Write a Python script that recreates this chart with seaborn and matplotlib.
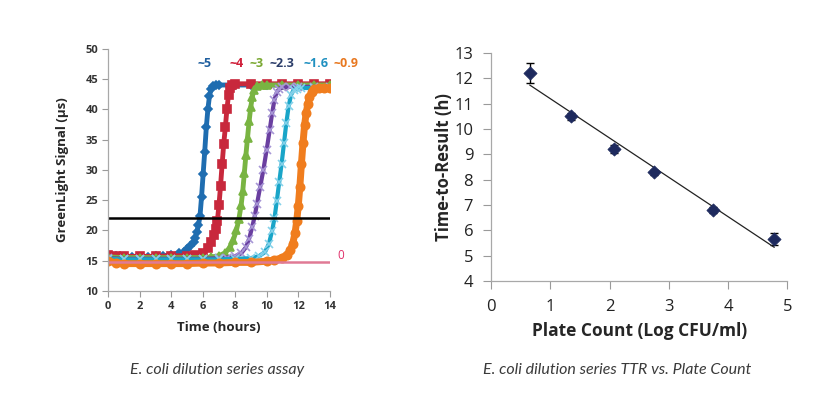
import numpy as np
import pandas as pd
import matplotlib
matplotlib.use("Agg")
import matplotlib.pyplot as plt
import seaborn as sns

# -------------------------
# Data
# -------------------------
# left: GreenLight signal curves for each dilution
t_5 = [0, 0.5, 1, 1.5, 2, 2.5, 3, 3.5, 4, 4.5, 4.8, 5.0, 5.2, 5.4, 5.5, 5.6, 5.7, 5.8, 5.9, 6.0, 6.1, 6.2, 6.3, 6.4, 6.5, 6.6, 6.8, 7.0, 8, 9, 10, 11, 12, 13, 14]
s_5 = [16.0, 15.7, 15.6, 15.6, 15.6, 15.6, 15.7, 15.8, 15.9, 16.2, 16.5, 16.9, 17.4, 18.1, 18.8, 19.7, 20.8, 22.3, 25.5, 29.3, 33.0, 37.0, 40.0, 42.2, 43.3, 43.8, 44.0, 44.0, 44.0, 44.0, 44.0, 44.0, 44.0, 44.0, 44.0]

t_4 = [0, 0.5, 1, 2, 3, 4, 5, 5.5, 6.0, 6.3, 6.5, 6.7, 6.8, 6.9, 7.0, 7.1, 7.2, 7.3, 7.4, 7.5, 7.6, 7.7, 7.8, 8.0, 9, 10, 11, 12, 13, 14]
s_4 = [16.0, 15.8, 15.7, 15.7, 15.7, 15.8, 15.8, 15.9, 16.3, 17.0, 18.0, 19.3, 20.3, 21.6, 24.2, 27.4, 31.0, 34.3, 37.0, 40.0, 42.3, 43.5, 44.0, 44.2, 44.2, 44.2, 44.2, 44.2, 44.2, 44.2]

t_3 = [0, 1, 2, 3, 4, 5, 6, 6.5, 7.0, 7.4, 7.7, 7.9, 8.1, 8.25, 8.4, 8.5, 8.6, 8.7, 8.8, 8.9, 9.0, 9.1, 9.2, 9.4, 9.7, 10, 11, 12, 13, 14]
s_3 = [15.6, 15.5, 15.5, 15.5, 15.5, 15.5, 15.5, 15.6, 15.8, 16.3, 17.2, 18.4, 20.0, 21.8, 24.2, 26.5, 29.5, 32.5, 35.3, 38.0, 40.3, 42.0, 43.2, 43.8, 44.0, 44.0, 44.0, 44.0, 44.0, 44.0]

t_23 = [0, 1, 2, 3, 4, 5, 6, 7, 7.5, 8.0, 8.4, 8.7, 8.9, 9.1, 9.25, 9.4, 9.6, 9.8, 10.0, 10.2, 10.35, 10.5, 10.65, 10.8, 11.0, 11.5, 12, 13, 14]
s_23 = [15.4, 15.3, 15.3, 15.3, 15.3, 15.3, 15.3, 15.4, 15.5, 15.7, 16.2, 17.2, 18.6, 20.6, 22.3, 24.4, 27.2, 30.0, 33.2, 36.6, 39.3, 41.6, 42.8, 43.4, 43.6, 43.7, 43.7, 43.7, 43.7]

t_16 = [0, 1, 2, 3, 4, 5, 6, 7, 8, 9, 9.5, 9.9, 10.15, 10.35, 10.5, 10.65, 10.8, 10.95, 11.1, 11.25, 11.4, 11.55, 11.7, 11.9, 12.2, 13, 14]
s_16 = [15.3, 15.2, 15.2, 15.2, 15.2, 15.2, 15.2, 15.2, 15.3, 15.4, 15.7, 16.4, 17.8, 19.9, 22.0, 24.9, 28.0, 31.0, 34.4, 37.8, 40.6, 42.4, 43.1, 43.4, 43.5, 43.5, 43.5]

t_09 = [0, 0.5, 1, 2, 3, 4, 5, 6, 7, 8, 9, 10, 10.5, 11.0, 11.3, 11.5, 11.65, 11.8, 11.9, 12.0, 12.1, 12.2, 12.3, 12.4, 12.5, 12.6, 12.7, 12.85, 13.0, 13.3, 13.6, 14]
s_09 = [15.0, 14.6, 14.5, 14.5, 14.5, 14.5, 14.5, 14.6, 14.6, 14.7, 14.7, 14.9, 15.1, 15.5, 16.0, 16.8, 17.8, 19.6, 21.5, 24.0, 27.2, 31.0, 34.5, 37.4, 39.4, 40.8, 42.0, 42.9, 43.3, 43.5, 43.5, 43.5]

t_0 = [0, 2, 4, 6, 8, 10, 12, 14]
s_0 = [14.7, 14.7, 14.7, 14.7, 14.7, 14.7, 14.7, 14.7]

dilution_labels = ["~5", "~4", "~3", "~2.3", "~1.6", "~0.9"]
threshold = 22

# right: time-to-result vs plate count
plate_count = [0.65, 1.35, 2.07, 2.75, 3.75, 4.78]
ttr = [12.2, 10.5, 9.2, 8.3, 6.8, 5.65]
ttr_err = [0.4, 0.15, 0.15, 0.1, 0.13, 0.25]

# -------------------------
# Styling
# -------------------------
sns.set_style("white")
plt.rcParams["font.family"] = ["Open Sans", "DejaVu Sans"]

fig = plt.figure(figsize=(8.27, 3.99), dpi=100)
ax1 = fig.add_axes([0.1306, 0.271, 0.2684, 0.607])
ax2 = fig.add_axes([0.594, 0.296, 0.358, 0.571])

series = [
    (t_5, s_5, "#1f6db0", "#1f6db0", "D", 4.5, 3.5),
    (t_4, s_4, "#c8283c", "#c8283c", "s", 5.5, 3.5),
    (t_3, s_3, "#79b442", "#79b442", "^", 5.5, 3.5),
    (t_23, s_23, "#6a3fa0", "#a797d6", "x", 5.5, 3.0),
    (t_16, s_16, "#19a5c8", "#86d2ea", "x", 5.5, 3.0),
    (t_09, s_09, "#f07d1e", "#f07d1e", "o", 6, 5.0),
]
label_colors = ["#1f5e9e", "#d0203a", "#7aa832", "#2c3e6a", "#2090c0", "#e87820"]
label_x = [6.1, 8.1, 9.4, 11.0, 13.1, 15.0]

for t, s, lc, mc, mk, ms, lw in series:
    sns.lineplot(x=t, y=s, ax=ax1, color=lc, lw=lw, marker=mk, markersize=ms,
                 markerfacecolor=mc, markeredgecolor=mc, markeredgewidth=1.2,
                 sort=False, estimator=None)
sns.lineplot(x=t_0, y=s_0, ax=ax1, color="#e07a95", lw=1.8, sort=False, estimator=None)
ax1.plot([0, 14], [threshold, threshold], color="black", lw=1.8)

for lab, lx, col in zip(dilution_labels, label_x, label_colors):
    ax1.text(lx, 47.6, lab, color=col, fontsize=9, fontweight="bold",
             ha="center", va="center", clip_on=False)
ax1.text(14.7, 15.9, "0", color="#e0306a", fontsize=8.5, ha="center", va="center", clip_on=False)

ax1.set_xlim(0, 14)
ax1.set_ylim(10, 50)
ax1.set_xticks(range(0, 15, 2))
ax1.set_yticks(range(10, 51, 5))
ax1.set_xlabel("Time (hours)", fontsize=9.5, fontweight="bold", labelpad=7)
ax1.set_ylabel("GreenLight Signal (µs)", fontsize=9.5, fontweight="bold", labelpad=12)
ax1.tick_params(axis="both", labelsize=8, length=4, width=0.8, color="#9a9a9a",
                direction="out", bottom=True, left=True, pad=3, labelcolor="#333333")
for lab in ax1.get_xticklabels() + ax1.get_yticklabels():
    lab.set_fontweight("bold")

# right panel
ax2.errorbar(plate_count, ttr, yerr=ttr_err, fmt="none", ecolor="black",
             elinewidth=1, capsize=3, capthick=1)
sns.regplot(x=plate_count, y=ttr, ax=ax2, scatter=False, ci=None, truncate=True,
            line_kws={"color": "#222222", "lw": 0.9})
sns.scatterplot(x=plate_count, y=ttr, ax=ax2, marker="D", s=45, color="#1e2a5e",
                edgecolor="#1e2a5e", zorder=5)

ax2.set_xlim(0, 5)
ax2.set_ylim(4, 13)
ax2.set_xticks(range(0, 6))
ax2.set_yticks(range(4, 14))
ax2.set_xlabel("Plate Count (Log CFU/ml)", fontsize=12.5, fontweight="bold", labelpad=5)
ax2.set_ylabel("Time-to-Result (h)", fontsize=12, fontweight="bold", labelpad=1)
ax2.tick_params(axis="both", labelsize=12, length=6, width=0.8, color="#9a9a9a",
                direction="out", bottom=True, left=True, pad=7, labelcolor="#222222")

for ax in (ax1, ax2):
    sns.despine(ax=ax)
    for sp in ("left", "bottom"):
        ax.spines[sp].set_color("#a8a8a8")
        ax.spines[sp].set_linewidth(0.9)

fig.text(0.262, 0.073, "E. coli dilution series assay", fontsize=11.5, style="italic",
         color="#3a3a3a", ha="center", va="center", family=["Lato", "DejaVu Sans"])
fig.text(0.746, 0.073, "E. coli dilution series TTR vs. Plate Count", fontsize=11.5, style="italic",
         color="#3a3a3a", ha="center", va="center", family=["Lato", "DejaVu Sans"])

fig.savefig("out.png", dpi=100)
